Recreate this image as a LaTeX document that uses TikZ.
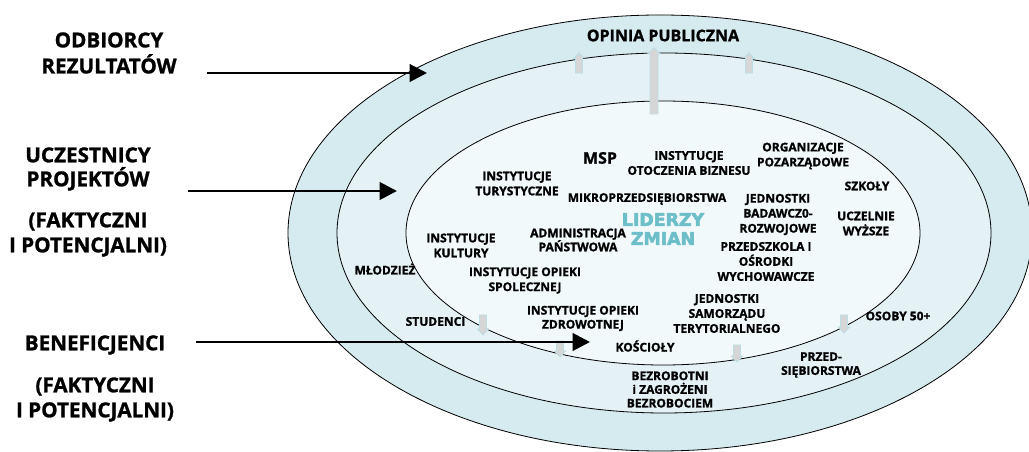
\documentclass[tikz,border=0pt]{standalone}
\usepackage{fontspec}
\setmainfont{Open Sans}[BoldFeatures={FakeBold=1.2}]
\newfontfamily\lidfont{DejaVu Sans}[BoldFeatures={FakeBold=3}]
\usetikzlibrary{arrows.meta}
\definecolor{ringA}{RGB}{214,235,239}
\definecolor{ringB}{RGB}{228,242,245}
\definecolor{ringC}{RGB}{241,249,250}
\definecolor{lidcol}{RGB}{108,190,201}
\definecolor{garr}{RGB}{214,214,214}
\definecolor{garrb}{RGB}{186,222,228}
\tikzset{
  ring/.style={draw=black, line width=0.6pt},
  biglbl/.style={font=\fontsize{15.5}{19.5}\selectfont\bfseries, align=center, inner sep=0pt},
  lbl/.style={font=\fontsize{9}{11.25}\selectfont\bfseries, align=center, inner sep=0pt},
  bigarrow/.style={draw=black, line width=2.2pt, -{Triangle[length=13pt,width=13pt]}},
  blkarrow/.style={fill=garr, draw=garrb, line width=0.6pt},
  pics/blkup/.style={code={
    \path[blkarrow] (0,0) -- (5,5) -- (3.5,5) -- (3.5,#1) -- (-3.5,#1) -- (-3.5,5) -- (-5,5) -- cycle;}},
  pics/bigup/.style={code={
    \path[blkarrow] (0,0) -- (6.5,6) -- (4,6) -- (4,#1) -- (-4,#1) -- (-4,6) -- (-6.5,6) -- cycle;}},
  pics/blkdown/.style={code={
    \path[blkarrow] (0,0) -- (5.5,-6) -- (3.5,-6) -- (3.5,-#1) -- (-3.5,-#1) -- (-3.5,-6) -- (-5.5,-6) -- cycle;}}
}
\begin{document}
\begin{tikzpicture}[x=0.75pt,y=-0.75pt]
\useasboundingbox (0,0) rectangle (1029,452);
\clip (0,0) rectangle (1029,452);
\fill[white] (0,0) rectangle (1029,452);
% rings
\path[ring, fill=ringA] (660,233) ellipse [x radius=279pt, y radius=163.5pt];
\path[ring, fill=ringB] (664,233) ellipse [x radius=245.25pt, y radius=135pt];
\path[ring, fill=ringC] (663,233) ellipse [x radius=192.75pt, y radius=99pt];
% grey block arrows
\pic (up1) at (579,53) {blkup=20};
\pic (up2) at (749,53) {blkup=20};
\pic (up3) at (654,48) {bigup=66};
\pic (dn1) at (483,335) {blkdown=20};
\pic (dn2) at (560,357) {blkdown=16};
\pic (dn3) at (737,362) {blkdown=17};
\pic (dn4) at (844,333) {blkdown=18};
% left labels
\node[biglbl] (odb) at (109,53) {ODBIORCY\\REZULTATÓW};
\node[biglbl] (ucz) at (88,169) {UCZESTNICY\\[-1.5pt]PROJEKTÓW};
\node[biglbl] (fak1) at (88,234.5) {(FAKTYCZNI\\[-0.75pt]I POTENCJALNI)};
\node[biglbl] (ben) at (95,345) {BENEFICJENCI};
\node[biglbl] (fak2) at (95,399.5) {(FAKTYCZNI\\[-0.75pt]I POTENCJALNI)};
% arrow end points
\coordinate (a1s) at (207,73);
\coordinate (a1e) at (427,73);
\coordinate (a2s) at (188,191);
\coordinate (a2e) at (397,191);
\coordinate (a3s) at (196,342);
\coordinate (a3e) at (590,342);
% ring labels
\node[lbl, font=\fontsize{12}{14}\selectfont\bfseries] (opi) at (663,35.5) {OPINIA PUBLICZNA};
\node[lbl, font=\fontsize{12}{14}\selectfont\bfseries] (msp) at (600,158) {MSP};
\node[lbl] (iob) at (689,163) {INSTYTUCJE\\OTOCZENIA BIZNESU};
\node[lbl] (org) at (803,156) {ORGANIZACJE\\POZARZĄDOWE};
\node[lbl] (itur) at (517,183.5) {INSTYTUCJE\\TURYSTYCZNE};
\node[lbl] (szk) at (867,186) {SZKOŁY};
\node[lbl] (mikro) at (647,199) {MIKROPRZEDSIĘBIORSTWA};
\node[lbl] (jbr) at (778,214.5) {JEDNOSTKI\\BADAWCZ0-\\ROZWOJOWE};
\node[lbl] (ucw) at (866,223.5) {UCZELNIE\\WYŻSZE};
\node[lbl, font=\lidfont\fontsize{13}{14.25}\selectfont\bfseries, text=lidcol] (lid) at (663,229) {LIDERZY\\ZMIAN};
\node[lbl] (adm) at (578,240) {ADMINISTRACJA\\[-0.75pt]PAŃSTWOWA};
\node[lbl] (ikul) at (461,245.5) {INSTYTUCJE\\KULTURY};
\node[lbl] (mlo) at (385,269) {MŁODZIEŻ};
\node[lbl] (iops) at (525,280.5) {INSTYTUCJE OPIEKI\\SPOLECZNEJ};
\node[lbl] (prz) at (766,261.5) {PRZEDSZKOLA I\\OŚRODKI\\WYCHOWAWCZE};
\node[lbl] (jst) at (727,313.5) {JEDNOSTKI\\SAMORZĄDU\\TERYTORIALNEGO};
\node[lbl] (iopz) at (583,318.5) {INSTYTUCJE OPIEKI\\[-0.75pt]ZDROWOTNEJ};
\node[lbl] (stu) at (435.5,321.5) {STUDENCI};
\node[lbl] (oso) at (898,316) {OSOBY 50+};
\node[lbl] (kos) at (645,346) {KOŚCIOŁY};
\node[lbl] (bez) at (670,389.5) {BEZROBOTNI\\[-1pt]i ZAGROŻENI\\[-1pt]BEZROBOCIEM};
\node[lbl] (psb) at (821,365) {PRZED-\\[-0.75pt]SIĘBIORSTWA};
% black arrows
\draw[bigarrow] (a1s) -- (a1e);
\draw[bigarrow] (a2s) -- (a2e);
\draw[bigarrow] (a3s) -- (a3e);
\end{tikzpicture}
\end{document}
